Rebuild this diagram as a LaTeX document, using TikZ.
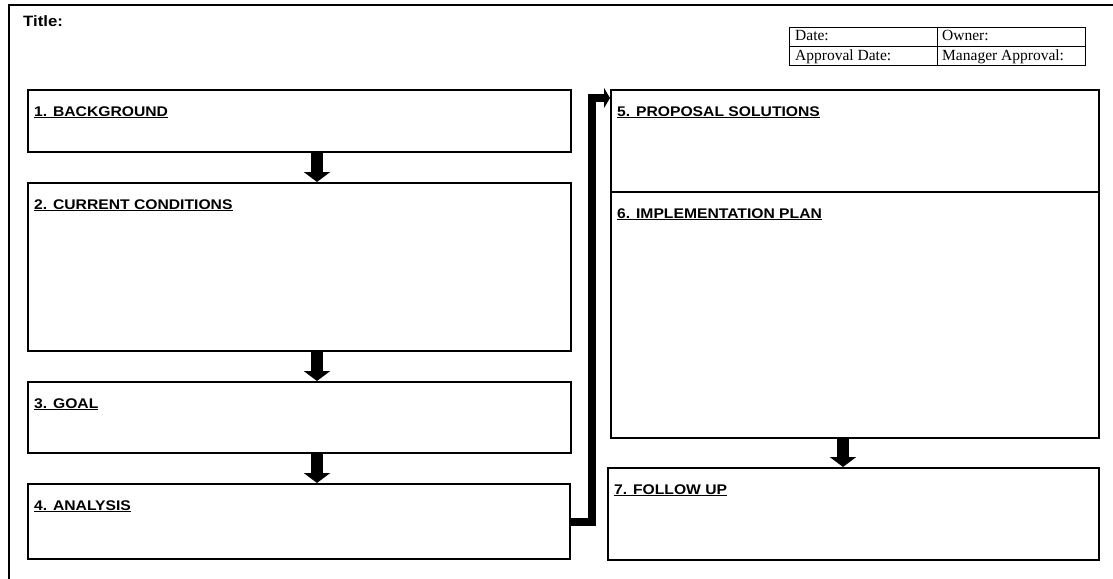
\documentclass[tikz,border=0pt]{standalone}
\usepackage{fontspec}
\setmainfont{Liberation Serif}
\newfontfamily\headfont{Liberation Sans}[FakeStretch=1.12]
\usetikzlibrary{arrows.meta,calc}

\tikzset{
  panel/.style={draw, line width=2pt, rectangle, anchor=north west, inner sep=0pt},
  heading/.style={anchor=base west, inner sep=0pt,
    font=\headfont\bfseries\fontsize{14}{16}\selectfont},
  cell/.style={anchor=base west, inner sep=0pt, font=\fontsize{15.5}{18}\selectfont},
  flow/.style={line width=12pt, -{Triangle[width=26pt,length=10pt]}},
  elbow/.style={line width=8pt, line join=miter, -{Triangle[width=20pt,length=6pt]}}
}

\begin{document}
\begin{tikzpicture}[x=1pt,y=-1pt]
\useasboundingbox (0,0) rectangle (1113,578);
\fill[white] (0,0) rectangle (1113,578);

% sheet border (runs off the page at right and bottom)
\draw[line width=2pt] (9,5) rectangle (1140,600);

% title
\node[anchor=base west, inner sep=0pt,
      font=\headfont\bfseries\fontsize{15}{18}\selectfont] (title) at (23,27) {Title:};

% approval table
\draw[line width=0.8pt] (789,27) rectangle (1085,65);
\draw[line width=0.8pt] (789,46) -- (1085,46);
\draw[line width=0.8pt] (937,27) -- (937,65);
\node[cell] (date)  at (795,41) {Date:};
\node[cell] (owner) at (942,41) {Owner:};
\node[cell] (adate) at (795,60) {Approval Date:};
\node[cell] (mgr)   at (942,60) {Manager Approval:};

% left column panels
\node[panel, minimum width=543pt, minimum height=62pt]  (b1) at (27,89)  {};
\node[panel, minimum width=543pt, minimum height=168pt] (b2) at (27,182) {};
\node[panel, minimum width=543pt, minimum height=71pt]  (b3) at (27,381) {};
\node[panel, minimum width=542pt, minimum height=75pt]  (b4) at (27,483) {};

% right column panels
\node[panel, minimum width=488pt, minimum height=102pt] (b5) at (610,89)  {};
\node[panel, minimum width=488pt, minimum height=246pt] (b6) at (610,191) {};
\node[panel, minimum width=491pt, minimum height=92pt]  (b7) at (607,467) {};

% headings
\node[heading] (h1) at ([shift={(7,27)}]b1.north west) {\underline{1. BACKGROUND}};
\node[heading] (h2) at ([shift={(7,27)}]b2.north west) {\underline{2. CURRENT CONDITIONS}};
\node[heading] (h3) at ([shift={(7,27)}]b3.north west) {\underline{3. GOAL}};
\node[heading] (h4) at ([shift={(7,27)}]b4.north west) {\underline{4. ANALYSIS}};
\node[heading] (h5) at ([shift={(7,27)}]b5.north west) {\underline{5. PROPOSAL SOLUTIONS}};
\node[heading] (h6) at ([shift={(7,27)}]b6.north west) {\underline{6. IMPLEMENTATION PLAN}};
\node[heading] (h7) at ([shift={(7,27)}]b7.north west) {\underline{7. FOLLOW UP}};

% flow arrows
\coordinate (colL) at (317,0);
\coordinate (colR) at (843,0);
\draw[flow] (b1.south -| colL) -- (b2.north -| colL);
\draw[flow] (b2.south -| colL) -- (b3.north -| colL);
\draw[flow] (b3.south -| colL) -- (b4.north -| colL);
\draw[flow] (b6.south -| colR) -- (b7.north -| colR);

% link from analysis up to proposals
\draw[elbow] (b4.east) -- ++(21,0) |- ([yshift=-9pt]b5.north west);
\end{tikzpicture}
\end{document}
